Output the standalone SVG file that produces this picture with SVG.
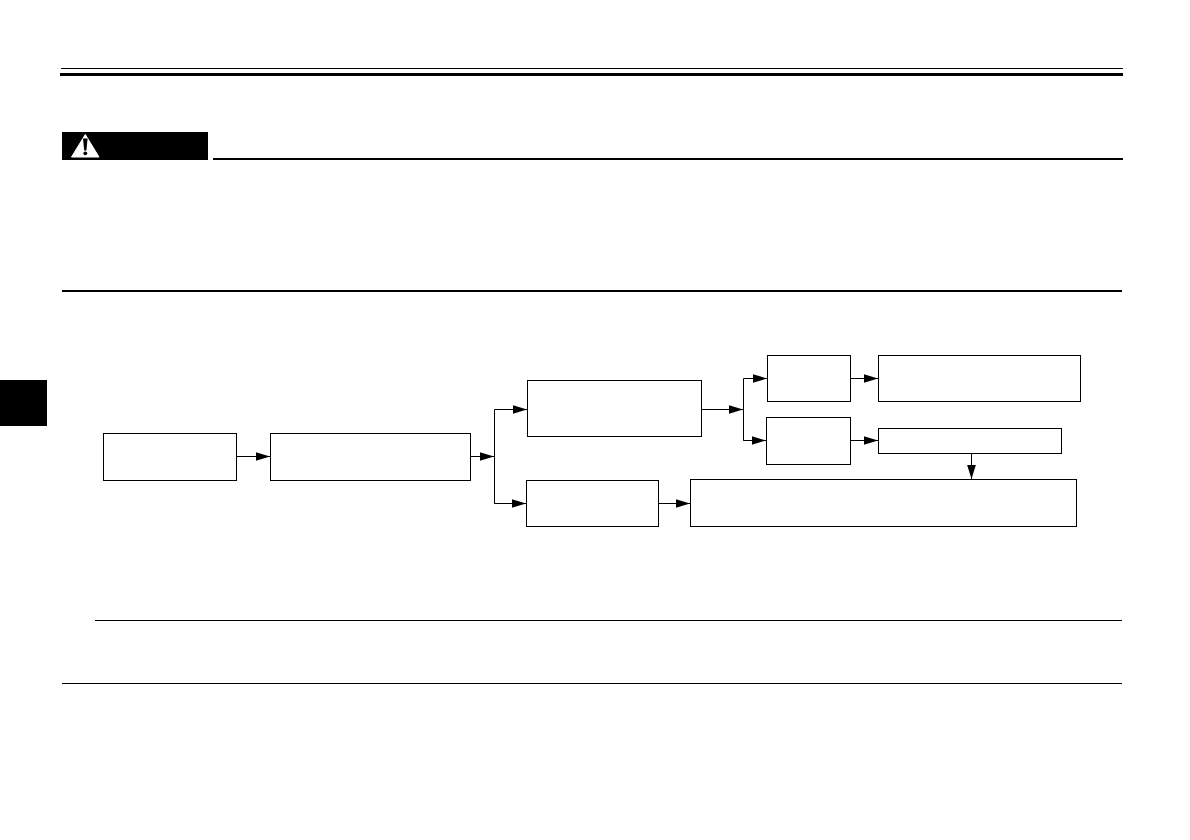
<svg xmlns="http://www.w3.org/2000/svg" width="1190" height="840" viewBox="0 0 1190 840">
  <style>
    .box { fill: #fff; stroke: #000; stroke-width: 1; }
    .conn { fill: none; stroke: #000; stroke-width: 1; }
    .arrow { marker-end: url(#head); }
    .bar { fill: #000; }
  </style>
  <defs>
    <marker id="head" markerUnits="userSpaceOnUse" markerWidth="16" markerHeight="10" refX="14.5" refY="5" orient="auto">
      <path d="M0 .5L14.5 5L0 9.5Z" fill="#000"/>
    </marker>
  </defs>
  <rect width="1190" height="840" fill="#fff"/>
  <g id="page-rules">
    <rect class="bar" x="61" y="68" width="1062" height="1"/>
    <rect class="bar" x="60" y="73" width="1063" height="3"/>
    <rect class="bar" x="213" y="158" width="910" height="2"/>
    <rect class="bar" x="62" y="290" width="1060" height="2"/>
    <rect class="bar" x="95" y="620" width="1027" height="1"/>
    <rect class="bar" x="62" y="683" width="1060" height="1"/>
    <rect class="bar" x="0" y="380" width="47" height="46"/>
  </g>
  <g id="warning-badge">
    <rect class="bar" x="62" y="132" width="146" height="28"/>
    <path d="M85.3 134.5L99 157H71.5Z" fill="#fff" stroke="#fff" stroke-width="1" stroke-linejoin="round"/>
    <path d="M83 138.5H87.6L86.4 150.5H84.2Z" fill="#000"/>
    <circle cx="85.3" cy="153.3" r="1.9" fill="#000"/>
  </g>
  <g id="connectors">
    <path class="conn arrow" d="M236.5 456.5H270"/>
    <path class="conn arrow" d="M470.5 456.5H494"/>
    <path class="conn arrow" d="M494.5 503.5V409.5H527"/>
    <path class="conn arrow" d="M494.5 456.5V503.5H526"/>
    <path class="conn arrow" d="M701.5 409.5H743"/>
    <path class="conn arrow" d="M743.5 440.5V378.5H767"/>
    <path class="conn arrow" d="M743.5 409.5V440.5H766"/>
    <path class="conn arrow" d="M850.5 378.5H878"/>
    <path class="conn arrow" d="M850.5 440.5H878"/>
    <path class="conn arrow" d="M971.5 453.5V479"/>
    <path class="conn arrow" d="M658.5 503.5H690"/>
  </g>
  <g id="node-a"><rect class="box" x="103.5" y="433.5" width="133" height="47"/></g>
  <g id="node-b"><rect class="box" x="270.5" y="433.5" width="200" height="47"/></g>
  <g id="node-c"><rect class="box" x="527.5" y="380.5" width="174" height="56"/></g>
  <g id="node-d"><rect class="box" x="526.5" y="480.5" width="132" height="46"/></g>
  <g id="node-e"><rect class="box" x="690.5" y="479.5" width="386" height="47"/></g>
  <g id="node-f"><rect class="box" x="767.5" y="355.5" width="83" height="46"/></g>
  <g id="node-g"><rect class="box" x="766.5" y="417.5" width="84" height="47"/></g>
  <g id="node-h"><rect class="box" x="878.5" y="355.5" width="202" height="46"/></g>
  <g id="node-i"><rect class="box" x="878.5" y="428.5" width="183" height="25"/></g>
</svg>
